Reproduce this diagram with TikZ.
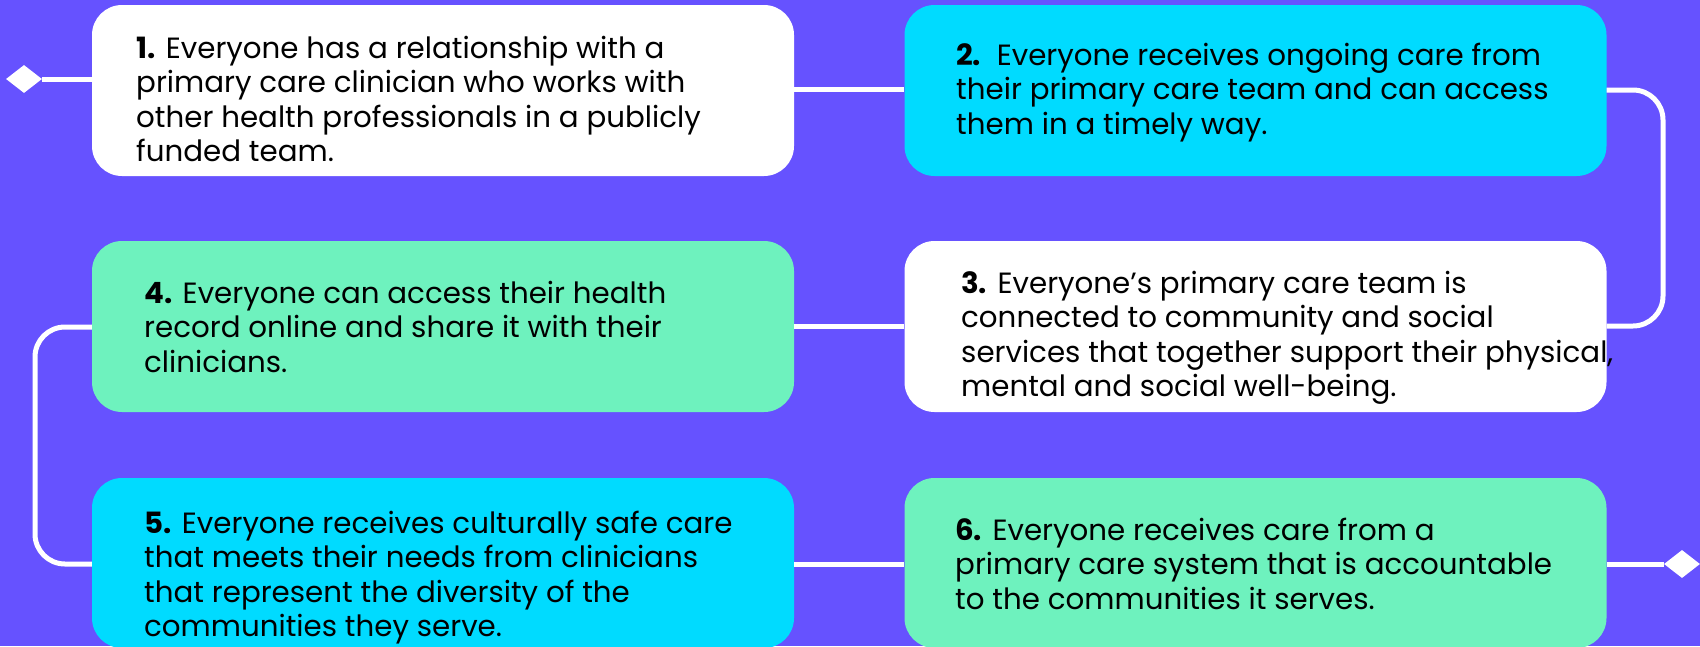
\documentclass[tikz,border=0pt]{standalone}
\usepackage{fontspec}
\setmainfont{Poppins}
\usetikzlibrary{shapes.geometric}
\definecolor{bg}{HTML}{6652FF}
\definecolor{cyanbox}{HTML}{00DBFF}
\definecolor{mintbox}{HTML}{6EF2BE}
\newcommand\cardtext[1]{\parbox[t]{720pt}{\fontsize{29.3pt}{34.5pt}\selectfont\raggedright #1}}
\begin{document}
\begin{tikzpicture}[x=1pt,y=-1pt,
  card/.style={rectangle, rounded corners=30pt, minimum width=702pt, minimum height=171pt, inner sep=0pt},
  txt/.style={anchor=base west, inner sep=0pt, text=black},
  link/.style={draw=white, line width=5pt},
  tip/.style={diamond, fill=white, minimum width=36pt, minimum height=28pt, inner sep=0pt}]
\useasboundingbox (0,0) rectangle (1700,646);
\fill[bg] (0,0) rectangle (1700,646);

\node[card, fill=white]    (b1) at (443,90.5) {};
\node[card, fill=cyanbox]  (b2) at (1255.5,90.5) {};
\node[card, fill=mintbox]  (b4) at (443,326.5) {};
\node[card, fill=white]    (b3) at (1255.5,326.5) {};
\node[card, fill=cyanbox, minimum height=170pt]  (b5) at (443,563) {};
\node[card, fill=mintbox, minimum height=170pt]  (b6) at (1255.5,563) {};

\node[tip] (d1) at (24,79) {};
\node[tip] (d2) at (1682,564) {};

\coordinate (r1) at (0,89);
\coordinate (rt) at (1663,90);
\coordinate (rb) at (1663,326);
\coordinate (lt) at (35,327);
\coordinate (lb) at (35,564);

\draw[link] (d1) -- (d1 -| b1.west);
\draw[link] (r1 -| b1.east) -- (r1 -| b2.west);
\draw[link, rounded corners=30pt] (rt -| b2.east) -- (rt) -- (rb) -- (rb -| b3.east);
\draw[link] (rb -| b3.west) -- (rb -| b4.east);
\draw[link, rounded corners=30pt] (lt -| b4.west) -- (lt) -- (lb) -- (lb -| b5.west);
\draw[link] (lb -| b5.east) -- (lb -| b6.west);
\draw[link] (lb -| b6.east) -- (d2);

\node[txt] (t1) at (136,58) {\cardtext{\textbf{1.} Everyone has a relationship with a\\primary care clinician who works with\\other health professionals in a publicly\\funded team.}};
\node[txt] (t2) at (956,65) {\cardtext{\textbf{2.}\ \ Everyone receives ongoing care from\\their primary care team and can access\\them in a timely way.}};
\node[txt] (t3) at (961,293) {\cardtext{\textbf{3.} Everyone’s primary care team is\\connected to community and social\\services that together support their physical,\\mental and social well-being.}};
\node[txt] (t4) at (144,303) {\cardtext{\textbf{4.} Everyone can access their health\\record online and share it with their\\clinicians.}};
\node[txt] (t5) at (144,533) {\cardtext{\textbf{5.} Everyone receives culturally safe care\\that meets their needs from clinicians\\that represent the diversity of the\\communities they serve.}};
\node[txt] (t6) at (955,540) {\cardtext{\textbf{6.} Everyone receives care from a\\primary care system that is accountable\\to the communities it serves.}};
\end{tikzpicture}
\end{document}
